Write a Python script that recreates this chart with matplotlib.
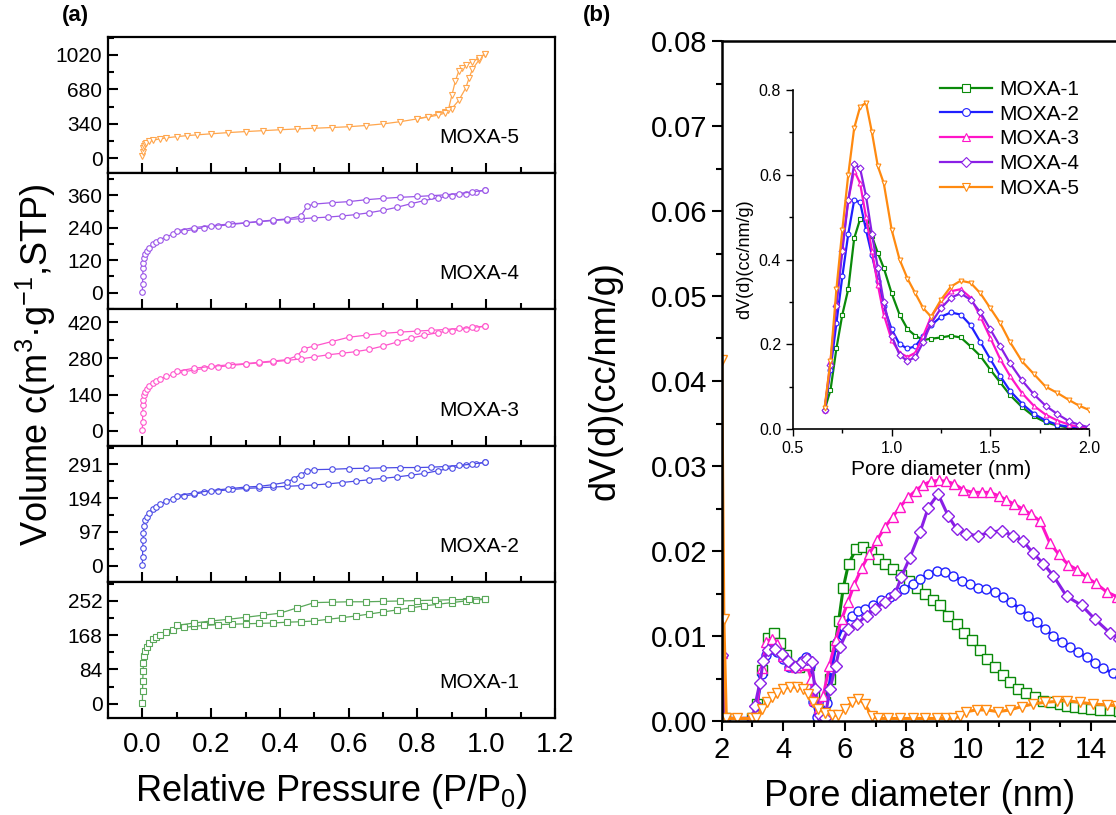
import numpy as np
import matplotlib as mpl
mpl.use('Agg')
import matplotlib.pyplot as plt
from matplotlib.ticker import MultipleLocator, FormatStrFormatter

# Arial-like font everywhere, mathtext in the same face
plt.rcParams["font.family"] = ["Liberation Sans", "DejaVu Sans"]
plt.rcParams["mathtext.fontset"] = "custom"
plt.rcParams["mathtext.rm"] = "Liberation Sans"
plt.rcParams["mathtext.default"] = "regular"

names = ["MOXA-1", "MOXA-2", "MOXA-3", "MOXA-4", "MOXA-5"]

###########################################
# (a) N2 isotherms
###########################################
p_ads = [0.0, 0.0005, 0.001, 0.002, 0.003, 0.005, 0.008, 0.012, 0.02, 0.03, 0.04, 0.05,
         0.07, 0.09, 0.12, 0.15, 0.18, 0.22, 0.26, 0.3, 0.34, 0.38, 0.42, 0.46, 0.5, 0.54,
         0.58, 0.62, 0.66, 0.7, 0.74, 0.78, 0.82, 0.86, 0.9, 0.94, 0.97, 0.995]

v_ads_1 = [2, 30, 55, 80, 100, 118, 130, 140, 150, 158, 164, 169, 176, 182, 187, 190, 192,
           194, 195, 196, 197, 198, 200, 201, 203, 207, 211, 215, 220, 225, 230, 235, 240,
           244, 248, 252, 254, 256]
p_des_1 = [0.995, 0.95, 0.9, 0.85, 0.8, 0.75, 0.7, 0.65, 0.6, 0.55, 0.5, 0.45, 0.4, 0.35,
           0.3, 0.25, 0.2, 0.15, 0.1]
v_des_1 = [257, 256, 255, 254, 253, 252, 251, 250, 250, 249, 248, 235, 222, 217, 212, 207,
           203, 198, 192]

v_ads_2 = [2, 25, 50, 75, 95, 115, 130, 140, 152, 162, 170, 176, 186, 193, 200, 205, 211,
           215, 219, 222, 224, 226, 228, 230, 232, 235, 239, 243, 247, 251, 255, 260, 265,
           273, 281, 288, 292, 297]
p_des_2 = [0.995, 0.96, 0.92, 0.88, 0.84, 0.8, 0.75, 0.7, 0.65, 0.6, 0.55, 0.5, 0.48,
           0.46, 0.44, 0.42, 0.38, 0.34, 0.3, 0.25, 0.2, 0.15, 0.1]
v_des_2 = [297, 292, 288, 285, 283, 282, 282, 281, 280, 279, 277, 276, 272, 262, 250, 240,
           233, 228, 226, 221, 216, 209, 201]

v_ads_3 = [2, 35, 70, 100, 120, 138, 150, 160, 172, 184, 192, 199, 210, 218, 228, 235, 241,
           247, 253, 258, 263, 267, 272, 278, 286, 294, 300, 306, 315, 328, 343, 358, 370,
           380, 388, 394, 399, 405]
p_des_3 = [0.995, 0.96, 0.92, 0.88, 0.84, 0.8, 0.75, 0.7, 0.65, 0.6, 0.55, 0.5, 0.47,
           0.45, 0.42, 0.38, 0.34, 0.3, 0.25, 0.2, 0.15, 0.1]
v_des_3 = [405, 400, 396, 392, 389, 386, 382, 377, 370, 362, 345, 328, 318, 290, 275, 270,
           265, 260, 255, 249, 242, 230]

v_ads_4 = [2, 30, 60, 90, 110, 128, 142, 152, 165, 178, 187, 195, 207, 216, 226, 234, 240,
           246, 252, 257, 262, 266, 270, 273, 276, 279, 283, 288, 295, 304, 315, 328, 340,
           350, 358, 366, 372, 378]
p_des_4 = [0.995, 0.96, 0.92, 0.88, 0.84, 0.8, 0.75, 0.7, 0.65, 0.6, 0.55, 0.5, 0.48,
           0.46, 0.42, 0.38, 0.34, 0.3, 0.25, 0.2, 0.15, 0.1]
v_des_4 = [378, 372, 366, 361, 358, 355, 352, 348, 343, 336, 332, 327, 320, 282, 272, 268,
           263, 258, 253, 247, 240, 228]

p_ads_5 = [0.0, 0.001, 0.002, 0.004, 0.007, 0.01, 0.02, 0.03, 0.05, 0.07, 0.1, 0.13, 0.16,
           0.2, 0.25, 0.3, 0.35, 0.4, 0.45, 0.5, 0.55, 0.6, 0.65, 0.7, 0.75, 0.8, 0.83,
           0.86, 0.88, 0.9, 0.92, 0.94, 0.95, 0.96, 0.98, 0.995]
v_ads_5 = [20, 60, 95, 120, 140, 150, 165, 175, 190, 200, 212, 222, 230, 240, 252, 262,
           271, 280, 288, 295, 302, 310, 322, 338, 360, 388, 410, 440, 460, 490, 570, 690,
           790, 880, 975, 1030]
p_des_5 = [0.995, 0.98, 0.96, 0.94, 0.93, 0.92, 0.91, 0.9, 0.89, 0.88, 0.86, 0.83, 0.8]
v_des_5 = [1030, 990, 955, 925, 895, 860, 760, 620, 480, 445, 425, 405, 390]

iso_ticks = {
    "MOXA-1": [0, 84, 168, 252],
    "MOXA-2": [0, 97, 194, 291],
    "MOXA-3": [0, 140, 280, 420],
    "MOXA-4": [0, 120, 240, 360],
    "MOXA-5": [0, 340, 680, 1020],
}
iso_lims = {
    "MOXA-1": (-35, 299),
    "MOXA-2": (-46, 345),
    "MOXA-3": (-58, 470),
    "MOXA-4": (-62, 441),
    "MOXA-5": (-150, 1198),
}
iso_data = {
    "MOXA-1": (p_ads, v_ads_1, p_des_1, v_des_1, 's'),
    "MOXA-2": (p_ads, v_ads_2, p_des_2, v_des_2, 'o'),
    "MOXA-3": (p_ads, v_ads_3, p_des_3, v_des_3, 'o'),
    "MOXA-4": (p_ads, v_ads_4, p_des_4, v_des_4, 'o'),
    "MOXA-5": (p_ads_5, v_ads_5, p_des_5, v_des_5, 'v'),
}
iso_colors = {
    "MOXA-1": "#5aa85a",
    "MOXA-2": "#4b4be6",
    "MOXA-3": "#ff55cc",
    "MOXA-4": "#9a55e8",
    "MOXA-5": "#ffa64d",
}

###########################################
# (b) pore size distributions
###########################################
d_1 = [2.0, 2.1, 3.0, 3.15, 3.3, 3.5, 3.7, 3.9, 4.1, 4.3, 4.5, 4.7, 4.85, 5.0, 5.15, 5.35,
       5.52, 5.68, 5.8, 5.95, 6.12, 6.36, 6.6, 6.84, 7.09, 7.31, 7.57, 7.82, 8.09, 8.35,
       8.6, 8.87, 9.09, 9.36, 9.63, 9.87, 10.12, 10.39, 10.62, 10.87, 11.14, 11.38, 11.63,
       11.9, 12.17, 12.44, 12.71, 12.98, 13.2, 13.47, 13.74, 14.01, 14.28, 14.61, 14.9]
dv_1 = [0.0003, 0.0003, 0.0003, 0.002, 0.006, 0.0098, 0.0103, 0.0092, 0.0078, 0.0065,
        0.0064, 0.007, 0.0066, 0.003, 0.0005, 0.0022, 0.005, 0.0088, 0.0118, 0.0157,
        0.0185, 0.0202, 0.0205, 0.0199, 0.0191, 0.0185, 0.0179, 0.0172, 0.0165, 0.0157,
        0.0149, 0.0142, 0.0136, 0.0124, 0.0114, 0.0104, 0.0095, 0.0083, 0.0073, 0.0063,
        0.0054, 0.0046, 0.0038, 0.0033, 0.0028, 0.0024, 0.0022, 0.002, 0.0018, 0.0016,
        0.0015, 0.0014, 0.0013, 0.0013, 0.0012]

d_2 = [2.0, 2.1, 3.0, 3.15, 3.3, 3.45, 3.62, 3.8, 4.0, 4.2, 4.4, 4.6, 4.75, 4.88, 4.98,
       5.1, 5.25, 5.41, 5.57, 5.73, 5.95, 6.22, 6.44, 6.65, 6.92, 7.19, 7.46, 7.68, 7.92,
       8.22, 8.44, 8.71, 8.98, 9.25, 9.52, 9.79, 10.06, 10.33, 10.6, 10.87, 11.14, 11.41,
       11.68, 11.96, 12.23, 12.5, 12.77, 13.04, 13.31, 13.58, 13.85, 14.12, 14.39, 14.72,
       14.95]
dv_2 = [0.0003, 0.0003, 0.0003, 0.0018, 0.0055, 0.0078, 0.0085, 0.0081, 0.0073, 0.0064,
        0.0063, 0.0071, 0.0075, 0.0065, 0.0022, 0.0005, 0.0004, 0.0021, 0.0061, 0.0093,
        0.0112, 0.0124, 0.013, 0.0132, 0.0136, 0.0142, 0.0146, 0.0152, 0.0155, 0.0161,
        0.0167, 0.0173, 0.0177, 0.0175, 0.0171, 0.0165, 0.0161, 0.0157, 0.0155, 0.0152,
        0.0146, 0.014, 0.0132, 0.0124, 0.0116, 0.0108, 0.01, 0.0093, 0.0087, 0.0081,
        0.0075, 0.0068, 0.0062, 0.0056, 0.0052]

d_3 = [2.0, 2.1, 3.0, 3.15, 3.3, 3.45, 3.62, 3.8, 4.0, 4.2, 4.4, 4.6, 4.76, 4.9, 5.0,
       5.15, 5.3, 5.5, 5.7, 5.9, 6.1, 6.3, 6.55, 6.8, 7.05, 7.3, 7.55, 7.8, 8.05, 8.3,
       8.55, 8.8, 9.05, 9.3, 9.55, 9.85, 10.15, 10.45, 10.7, 11.0, 11.25, 11.5, 11.8,
       12.05, 12.35, 12.65, 12.95, 13.25, 13.55, 13.85, 14.15, 14.5, 14.85]
dv_3 = [0.008, 0.0003, 0.0003, 0.002, 0.0062, 0.0093, 0.0097, 0.0091, 0.0077, 0.0066,
        0.0063, 0.0066, 0.0067, 0.005, 0.0025, 0.0015, 0.003, 0.0065, 0.0095, 0.012,
        0.014, 0.016, 0.018, 0.0197, 0.0213, 0.0228, 0.024, 0.0252, 0.0263, 0.0271,
        0.0278, 0.0282, 0.0283, 0.0282, 0.0279, 0.0272, 0.0269, 0.0269, 0.0269, 0.0265,
        0.026, 0.0255, 0.0249, 0.0243, 0.0235, 0.021, 0.0196, 0.0184, 0.0178, 0.0169,
        0.0162, 0.0152, 0.0146]

d_4 = [2.0, 2.1, 3.0, 3.08, 3.24, 3.35, 3.51, 3.73, 3.95, 4.16, 4.38, 4.6, 4.76, 4.92,
       5.03, 5.19, 5.35, 5.52, 5.7, 5.84, 6.11, 6.38, 6.71, 6.98, 7.3, 7.63, 7.84, 8.11,
       8.44, 8.71, 9.03, 9.36, 9.63, 9.95, 10.33, 10.71, 11.09, 11.47, 11.79, 12.1, 12.45,
       12.77, 13.2, 13.69, 14.12, 14.6, 14.9]
dv_4 = [0.0078, 0.0003, 0.0003, 0.0018, 0.0045, 0.0071, 0.0083, 0.0085, 0.0079, 0.0071,
        0.0063, 0.0069, 0.0073, 0.0069, 0.0038, 0.0007, 0.0003, 0.0038, 0.0065, 0.0087,
        0.0108, 0.0114, 0.0124, 0.0132, 0.014, 0.0149, 0.017, 0.0192, 0.0222, 0.0251,
        0.0267, 0.0241, 0.0226, 0.022, 0.0218, 0.0222, 0.0224, 0.0218, 0.0212, 0.0198,
        0.0185, 0.0171, 0.0147, 0.0136, 0.012, 0.0104, 0.0097]

d_5 = [2.0, 2.07, 2.15, 2.5, 3.0, 3.13, 3.3, 3.46, 3.62, 3.79, 4.0, 4.22, 4.43, 4.65,
       4.81, 4.98, 5.14, 5.35, 5.57, 5.79, 6.0, 6.22, 6.44, 6.65, 6.87, 7.09, 7.4, 7.8,
       8.2, 8.6, 9.0, 9.3, 9.52, 9.74, 9.95, 10.28, 10.6, 10.98, 11.36, 11.74, 12.12,
       12.5, 12.88, 13.2, 13.63, 14.07, 14.5, 14.85]
dv_5 = [0.0425, 0.012, 0.0003, 0.0003, 0.0003, 0.0004, 0.0014, 0.0022, 0.0028, 0.0033,
        0.0038, 0.004, 0.004, 0.0038, 0.0032, 0.0022, 0.0014, 0.001, 0.0007, 0.0007,
        0.0014, 0.0022, 0.0026, 0.002, 0.0006, 0.0003, 0.0003, 0.0003, 0.0003, 0.0003,
        0.0003, 0.0003, 0.0003, 0.0006, 0.0011, 0.0013, 0.0013, 0.0011, 0.0013, 0.0017,
        0.002, 0.0022, 0.0023, 0.0024, 0.0022, 0.002, 0.0019, 0.0018]

# micropore region (inset)
d_micro = [0.66, 0.69, 0.72, 0.75, 0.78, 0.81, 0.84, 0.87, 0.90, 0.93, 0.96, 1.00, 1.04,
           1.08, 1.12, 1.16, 1.20, 1.25, 1.30, 1.35, 1.40, 1.45, 1.50, 1.55, 1.60, 1.66,
           1.72, 1.78, 1.84, 1.90, 1.95, 2.00]
dvm_1 = [0.045, 0.092, 0.19, 0.27, 0.33, 0.45, 0.495, 0.49, 0.455, 0.415, 0.38, 0.32, 0.27,
         0.236, 0.22, 0.21, 0.213, 0.216, 0.22, 0.216, 0.195, 0.172, 0.14, 0.11, 0.08,
         0.052, 0.03, 0.016, 0.008, 0.003, 0.001, 0.0]
dvm_2 = [0.045, 0.14, 0.25, 0.36, 0.46, 0.54, 0.535, 0.47, 0.41, 0.35, 0.29, 0.235, 0.2,
         0.19, 0.195, 0.22, 0.245, 0.265, 0.275, 0.27, 0.245, 0.205, 0.165, 0.125, 0.09,
         0.06, 0.036, 0.02, 0.01, 0.005, 0.002, 0.001]
dvm_3 = [0.045, 0.16, 0.3, 0.43, 0.54, 0.61, 0.58, 0.5, 0.42, 0.34, 0.27, 0.21, 0.18, 0.17,
         0.18, 0.22, 0.265, 0.3, 0.325, 0.33, 0.31, 0.265, 0.215, 0.165, 0.125, 0.085,
         0.055, 0.034, 0.02, 0.01, 0.005, 0.002]
dvm_4 = [0.045, 0.15, 0.29, 0.42, 0.54, 0.625, 0.615, 0.55, 0.46, 0.38, 0.3, 0.22, 0.175,
         0.16, 0.17, 0.205, 0.25, 0.285, 0.31, 0.32, 0.305, 0.275, 0.235, 0.195, 0.155,
         0.115, 0.082, 0.055, 0.035, 0.018, 0.01, 0.004]
dvm_5 = [0.05, 0.16, 0.33, 0.47, 0.6, 0.71, 0.76, 0.77, 0.7, 0.62, 0.58, 0.47, 0.4, 0.355,
         0.32, 0.285, 0.265, 0.305, 0.336, 0.35, 0.345, 0.32, 0.285, 0.25, 0.205, 0.16,
         0.13, 0.1, 0.085, 0.068, 0.055, 0.045]

psd = [(d_1, dv_1, dvm_1), (d_2, dv_2, dvm_2), (d_3, dv_3, dvm_3),
       (d_4, dv_4, dvm_4), (d_5, dv_5, dvm_5)]
psd_colors = ["#0a8a0a", "#1f1fff", "#ff14c8", "#8a1fe6", "#ff8a10"]
psd_markers = ['s', 'o', '^', 'D', 'v']

W, H = 1116.0, 815.0
fig = plt.figure(figsize=(W / 100, H / 100), dpi=100)

# stacked isotherm panels, MOXA-5 on top
top_px, bot_px = 37.0, 718.0
step = (bot_px - top_px) / 5
for i, name in enumerate(names[::-1]):
    ax = fig.add_axes([108 / W, (H - (top_px + (i + 1) * step)) / H, 447 / W, step / H])
    pa, va, pd_, vd, mk = iso_data[name]
    col = iso_colors[name]
    ax.plot(pa, va, '-', marker=mk, color=col, mfc='white', mec=col, ms=4, mew=0.8, lw=0.9)
    ax.plot(pd_, vd, '-', marker=mk, color=col, mfc='white', mec=col, ms=4, mew=0.8, lw=0.9)
    ax.set_xlim(-0.1, 1.2)
    ax.set_ylim(*iso_lims[name])
    ticks = iso_ticks[name]
    ax.set_yticks(ticks)
    ax.yaxis.set_minor_locator(MultipleLocator(ticks[1] / 2.0))
    ax.xaxis.set_major_locator(MultipleLocator(0.2))
    ax.xaxis.set_minor_locator(MultipleLocator(0.1))
    ax.tick_params(which='both', direction='in', top=False, right=False, width=1.5)
    ax.tick_params(which='major', length=7)
    ax.tick_params(which='minor', length=4)
    ax.tick_params(axis='y', labelsize=15, pad=4)
    for s in ax.spines.values():
        s.set_linewidth(1.6)
    if name == "MOXA-1":
        ax.xaxis.set_major_formatter(FormatStrFormatter('%.1f'))
        ax.tick_params(axis='x', labelsize=20, pad=10)
        ax.set_xlabel('Relative Pressure (P/P$_0$)', fontsize=26, labelpad=10)
    else:
        ax.tick_params(axis='x', labelbottom=False)
    ax.text(0.83, 0.26, name, transform=ax.transAxes, ha='center', va='center', fontsize=15)

fig.text(36 / W, 1 - 365 / H, 'Volume c(m$^3$·g$^{-1}$,STP)', rotation=90,
         ha='center', va='center', fontsize=26)

# pore size distribution, running off the right edge
axb = fig.add_axes([721.7 / W, (H - 721) / H, 431 / W, 680 / H])
axi = fig.add_axes([793 / W, (H - 429) / H, 296 / W, 339 / H], facecolor='none')
for k in range(5):
    d, dv, dvm = psd[k]
    axb.plot(d, dv, '-', marker=psd_markers[k], color=psd_colors[k], mfc='white',
             mec=psd_colors[k], ms=6.5, mew=1.0, lw=2.2)
    axi.plot(d_micro, dvm, '-', marker=psd_markers[k], color=psd_colors[k], mfc='white',
             mec=psd_colors[k], ms=3.5, mew=0.8, lw=1.6, label=names[k])

axb.set_xlim(2, 16)
axb.set_ylim(0, 0.08)
axb.set_xticks([2, 4, 6, 8, 10, 12, 14])
axb.xaxis.set_minor_locator(MultipleLocator(1))
axb.yaxis.set_major_locator(MultipleLocator(0.01))
axb.yaxis.set_minor_locator(MultipleLocator(0.005))
axb.yaxis.set_major_formatter(FormatStrFormatter('%.2f'))
axb.tick_params(which='both', direction='out', top=False, right=False, width=1.5)
axb.tick_params(which='major', length=7, labelsize=21)
axb.tick_params(which='minor', length=4)
for s in axb.spines.values():
    s.set_linewidth(1.8)
axb.set_xlabel('Pore diameter (nm)', fontsize=26)
axb.xaxis.set_label_coords(0.46, -0.085)
axb.set_ylabel('dV(d)(cc/nm/g)', fontsize=26)
axb.yaxis.set_label_coords(-0.23, 0.5)

axi.set_xlim(0.5, 2.0)
axi.set_ylim(0, 0.8)
axi.xaxis.set_major_locator(MultipleLocator(0.5))
axi.xaxis.set_minor_locator(MultipleLocator(0.25))
axi.yaxis.set_major_locator(MultipleLocator(0.2))
axi.yaxis.set_minor_locator(MultipleLocator(0.1))
axi.xaxis.set_major_formatter(FormatStrFormatter('%.1f'))
axi.yaxis.set_major_formatter(FormatStrFormatter('%.1f'))
axi.spines['top'].set_visible(False)
axi.spines['right'].set_visible(False)
for s in ['left', 'bottom']:
    axi.spines[s].set_linewidth(1.2)
axi.tick_params(which='both', direction='out', width=1.0)
axi.tick_params(which='major', length=5, labelsize=11.5)
axi.tick_params(which='minor', length=3)
axi.set_xlabel('Pore diameter (nm)', fontsize=15, labelpad=3)
axi.set_ylabel('dV(d)(cc/nm/g)', fontsize=13, labelpad=4)
axi.legend(loc='upper left', bbox_to_anchor=(0.497, 1.03), frameon=False, fontsize=15,
           handlelength=2.5, handletextpad=0.35, labelspacing=0.28, borderpad=0,
           borderaxespad=0, markerscale=1.6)

fig.text(75 / W, 1 - 15 / H, '(a)', fontweight='bold', fontsize=16, ha='center', va='center')
fig.text(597 / W, 1 - 15 / H, '(b)', fontweight='bold', fontsize=16, ha='center', va='center')

fig.savefig('out.png', dpi=100, facecolor='w')
